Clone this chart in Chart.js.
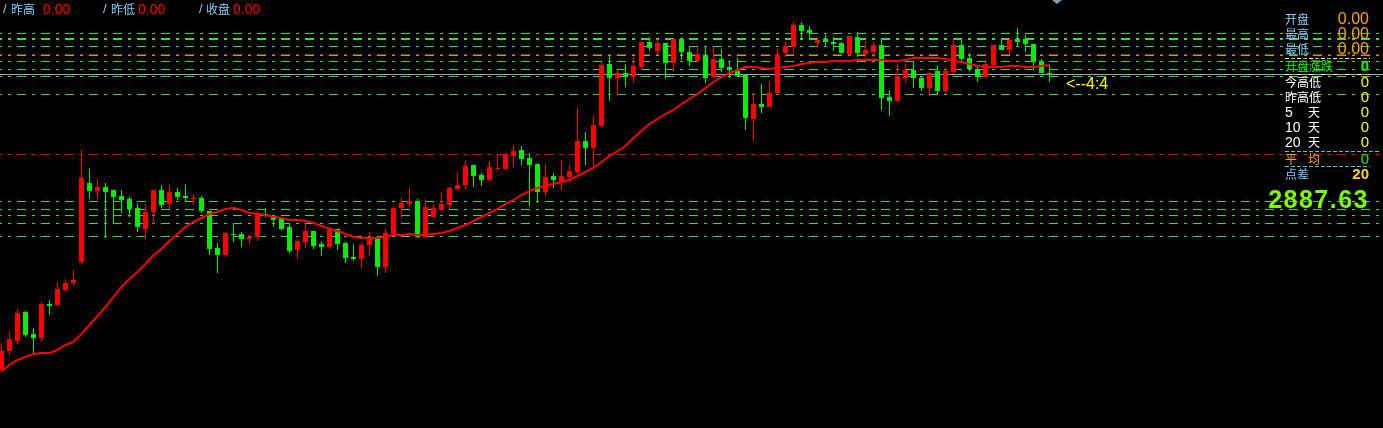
<!DOCTYPE html>
<html>
<head>
<meta charset="utf-8">
<script src="https://cdn.jsdelivr.net/npm/chart.js@4/dist/chart.umd.min.js"></script>
<style>
  html, body { margin: 0; padding: 0; background: #000; overflow: hidden; }
  #wrap { position: relative; width: 1383px; height: 428px; }
  canvas { position: absolute; left: 0; top: 0; }
  .t { position: absolute; white-space: pre; line-height: 16px; }
  .cjk { font-family: "Noto Sans CJK SC", sans-serif; font-size: 12px; }
  .num { font-family: "Liberation Sans", Arial, sans-serif; }
  .sep { position: absolute; height: 1px; }
</style>
</head>
<body>
<div id="wrap">
  <canvas id="chart" width="1383" height="428"></canvas>
</div>
<script>
// Candles, oldest first (price units)
const opens = [
  2858.0, 2859.9, 2860.9, 2863.8, 2861.6, 2861.2, 2864.6, 2864.5, 2866.0, 2866.7,
  2868.8, 2876.7, 2875.9, 2876.3, 2876.0, 2875.4, 2875.1, 2874.2, 2872.1, 2873.8,
  2876.0, 2874.6, 2875.8, 2875.4, 2875.1, 2875.2, 2873.9, 2870.2, 2869.5, 2871.6,
  2871.6, 2871.1, 2871.3, 2873.6, 2873.4, 2873.2, 2872.3, 2870.0, 2870.8, 2871.9,
  2870.6, 2870.3, 2872.1, 2870.7, 2869.3, 2869.1, 2870.5, 2871.2, 2868.3, 2871.6,
  2874.2, 2874.6, 2874.9, 2871.3, 2873.3, 2874.0, 2874.5, 2876.1, 2876.5, 2878.5,
  2877.5, 2877.0, 2878.1, 2878.1, 2879.4, 2880.0, 2879.2, 2878.6, 2875.8, 2877.4,
  2876.8, 2877.3, 2877.8, 2880.9, 2880.2, 2882.4, 2888.6, 2887.2, 2887.7, 2887.3,
  2888.3, 2890.8, 2889.9, 2890.7, 2888.7, 2891.1, 2889.8, 2888.9, 2889.5, 2887.3,
  2889.1, 2888.3, 2887.9, 2887.5, 2883.1, 2884.6, 2884.3, 2885.7, 2889.7, 2890.3,
  2892.5, 2892.0, 2890.7, 2891.1, 2890.8, 2890.7, 2889.6, 2891.3, 2889.6, 2889.8,
  2890.5, 2885.3, 2884.9, 2887.2, 2888.0, 2887.2, 2886.2, 2887.9, 2885.9, 2887.8,
  2890.5, 2889.2, 2888.1, 2887.3, 2888.5, 2890.5, 2890.0, 2891.1, 2891.1, 2890.6,
  2888.9, 2887.7
];
const highs = [
  2860.7, 2861.9, 2864.1, 2863.9, 2862.2, 2864.8, 2865.0, 2866.8, 2867.1, 2868.0,
  2880.0, 2878.2, 2877.1, 2876.7, 2876.0, 2876.0, 2875.3, 2874.6, 2874.6, 2876.0,
  2876.5, 2876.5, 2876.2, 2876.6, 2875.6, 2875.4, 2873.9, 2870.7, 2871.8, 2872.7,
  2871.8, 2871.5, 2873.8, 2874.2, 2873.5, 2873.2, 2872.6, 2871.1, 2872.6, 2871.9,
  2870.9, 2872.3, 2872.1, 2870.8, 2870.6, 2870.7, 2871.8, 2871.3, 2872.2, 2874.3,
  2875.2, 2876.3, 2875.1, 2875.1, 2874.7, 2875.8, 2876.3, 2877.7, 2879.0, 2878.5,
  2877.7, 2878.9, 2879.6, 2879.7, 2880.5, 2880.4, 2879.7, 2878.7, 2878.6, 2877.7,
  2878.9, 2878.5, 2884.3, 2881.8, 2883.5, 2888.8, 2889.5, 2888.0, 2888.6, 2889.3,
  2890.9, 2891.3, 2891.1, 2890.7, 2891.1, 2891.2, 2890.3, 2890.3, 2890.3, 2890.3,
  2890.1, 2888.8, 2889.2, 2887.5, 2885.7, 2886.6, 2886.9, 2890.2, 2890.8, 2892.8,
  2892.8, 2892.4, 2891.3, 2891.5, 2891.3, 2890.8, 2891.4, 2891.8, 2890.9, 2890.8,
  2891.2, 2886.0, 2888.6, 2888.6, 2888.8, 2887.3, 2887.8, 2888.4, 2888.2, 2891.1,
  2891.2, 2889.7, 2888.3, 2888.8, 2890.5, 2891.2, 2891.2, 2892.2, 2891.5, 2890.6,
  2889.1, 2888.5
];
const lows = [
  2857.8, 2859.5, 2860.6, 2861.3, 2859.7, 2860.8, 2863.5, 2864.4, 2865.9, 2866.4,
  2868.6, 2875.1, 2875.0, 2871.2, 2872.6, 2873.7, 2873.3, 2871.8, 2871.1, 2872.6,
  2874.2, 2874.1, 2875.0, 2874.8, 2874.5, 2873.7, 2869.5, 2867.7, 2869.3, 2870.8,
  2870.3, 2870.6, 2870.9, 2873.3, 2872.3, 2872.0, 2869.7, 2869.1, 2870.2, 2870.1,
  2869.4, 2870.2, 2870.0, 2868.7, 2868.9, 2868.2, 2869.5, 2867.4, 2867.7, 2871.5,
  2873.2, 2874.3, 2871.2, 2871.2, 2873.2, 2873.9, 2874.1, 2876.0, 2876.1, 2876.3,
  2876.4, 2876.9, 2877.9, 2878.0, 2878.3, 2878.5, 2874.4, 2874.7, 2875.4, 2876.2,
  2876.0, 2876.8, 2877.6, 2878.5, 2878.3, 2882.3, 2884.9, 2885.4, 2886.3, 2886.7,
  2888.0, 2889.9, 2889.5, 2887.2, 2887.8, 2889.0, 2888.4, 2888.8, 2886.7, 2887.2,
  2887.8, 2887.2, 2887.4, 2882.0, 2880.9, 2883.7, 2884.3, 2885.5, 2889.3, 2889.8,
  2891.1, 2891.1, 2890.2, 2890.3, 2889.9, 2889.7, 2889.3, 2889.3, 2889.3, 2889.3,
  2884.0, 2883.4, 2884.8, 2886.7, 2886.2, 2885.9, 2885.4, 2885.6, 2885.6, 2887.6,
  2888.8, 2887.9, 2886.8, 2887.2, 2888.4, 2890.0, 2889.5, 2890.3, 2889.8, 2888.0,
  2887.7, 2886.8
];
const closes = [
  2859.9, 2861.1, 2863.7, 2861.5, 2861.2, 2864.6, 2864.4, 2866.1, 2866.7, 2867.0,
  2877.2, 2875.9, 2876.3, 2875.8, 2875.3, 2875.0, 2874.1, 2872.3, 2873.8, 2876.0,
  2874.5, 2875.8, 2875.3, 2875.2, 2875.2, 2873.9, 2870.1, 2869.5, 2871.7, 2871.5,
  2871.1, 2871.3, 2873.7, 2873.4, 2873.0, 2872.1, 2869.9, 2870.9, 2871.9, 2870.4,
  2870.3, 2872.2, 2870.6, 2869.2, 2869.1, 2870.5, 2871.2, 2868.3, 2871.7, 2874.2,
  2874.7, 2874.9, 2871.3, 2874.3, 2874.2, 2874.6, 2876.2, 2876.5, 2878.4, 2877.4,
  2877.0, 2878.3, 2878.2, 2879.6, 2879.9, 2879.1, 2878.5, 2875.8, 2877.3, 2877.0,
  2877.4, 2877.9, 2880.9, 2880.2, 2882.5, 2888.5, 2887.2, 2887.7, 2887.3, 2888.4,
  2890.8, 2890.2, 2890.7, 2888.7, 2891.1, 2889.8, 2888.9, 2889.6, 2887.2, 2889.1,
  2888.2, 2888.0, 2887.4, 2883.2, 2884.6, 2884.3, 2885.7, 2889.5, 2890.4, 2892.5,
  2891.9, 2891.7, 2891.0, 2890.8, 2890.6, 2889.7, 2891.4, 2889.7, 2890.0, 2890.5,
  2885.2, 2884.9, 2887.4, 2888.0, 2887.2, 2886.2, 2887.7, 2885.9, 2887.9, 2890.5,
  2889.1, 2888.1, 2887.3, 2888.6, 2890.5, 2890.0, 2891.0, 2890.8, 2890.6, 2888.8,
  2887.7, 2887.5
];
// Moving average line
const maValues = [
  2857.9, 2858.5, 2859.0, 2859.3, 2859.6, 2859.7, 2859.7, 2860.0, 2860.5, 2860.8,
  2861.6, 2862.5, 2863.4, 2864.3, 2865.3, 2866.3, 2867.1, 2867.8, 2868.6, 2869.5,
  2870.1, 2870.9, 2871.6, 2872.3, 2872.8, 2873.2, 2873.6, 2873.8, 2874.1, 2874.2,
  2874.0, 2873.7, 2873.6, 2873.5, 2873.3, 2873.2, 2873.0, 2873.0, 2872.9, 2872.7,
  2872.4, 2872.1, 2871.9, 2871.6, 2871.3, 2871.2, 2871.2, 2871.2, 2871.3, 2871.5,
  2871.5, 2871.6, 2871.5, 2871.5, 2871.6, 2871.7, 2871.9, 2872.2, 2872.5, 2872.9,
  2873.3, 2873.7, 2874.1, 2874.6, 2875.0, 2875.5, 2875.9, 2876.2, 2876.4, 2876.6,
  2876.8, 2877.0, 2877.4, 2877.8, 2878.2, 2878.8, 2879.4, 2879.9, 2880.4, 2881.2,
  2881.9, 2882.6, 2883.1, 2883.6, 2884.0, 2884.6, 2885.1, 2885.6, 2886.2, 2886.8,
  2887.3, 2887.7, 2888.0, 2888.3, 2888.3, 2888.2, 2888.1, 2888.2, 2888.3, 2888.4,
  2888.6, 2888.7, 2888.8, 2888.8, 2888.9, 2888.9, 2888.9, 2889.0, 2889.0, 2889.0,
  2889.0, 2888.9, 2888.9, 2889.0, 2889.2, 2889.2, 2889.2, 2889.2, 2889.1, 2888.9,
  2888.8, 2888.6, 2888.4, 2888.3, 2888.3, 2888.3, 2888.4, 2888.4, 2888.3, 2888.3,
  2888.4, 2888.5
];
// Horizontal levels
const greenLevels = [2891.7, 2891.1, 2890.35, 2889.4, 2888.8, 2888.0, 2887.3, 2885.6,
                     2874.8, 2874.1, 2873.4, 2872.6, 2871.3];
const thickLevel = 2891.1;
const redLevels = [2889.5, 2879.55];
const bidPrice = 2887.5;

// Header and side panel texts
const headerLabels = ["昨高", "昨低", "收盘"];
const headerValues = ["0.00", "0.00", "0.00"];
const panelLabels = ["开盘", "最高", "最低", "开盘涨跌", "今高低", "昨高低", "5", "10", "20", "平", "点差"];
const panelValues = ["0.00", "0.00", "0.00", "0", "0", "0", "0", "0", "0", "0", "20"];
const lastPrice = "2887.63";
const ratioText = "<--4:4";

const UP = "#ff0000";
const DOWN = "#00f000";

const wrap = document.getElementById("wrap");

// Adds one absolutely placed text span
function addText(text, cls, left, centerY, color, extra) {
    const el = document.createElement("div");
    el.className = "t " + cls;
    el.textContent = text;
    el.style.left = left + "px";
    el.style.top = (centerY - 8) + "px";
    el.style.color = color;
    if (extra) Object.assign(el.style, extra);
    wrap.appendChild(el);
    return el;
}

function addRight(text, cls, right, centerY, color, extra) {
    const el = addText(text, cls, 0, centerY, color, extra);
    el.style.left = "auto";
    el.style.right = (1383 - right) + "px";
    return el;
}

function addSep(left, top, width, bg) {
    const el = document.createElement("div");
    el.className = "sep";
    el.style.left = left + "px";
    el.style.top = top + "px";
    el.style.width = width + "px";
    el.style.background = bg;
    wrap.appendChild(el);
}

// Header row
const headerX = [[3, 11, 43], [103, 111, 138], [199, 206, 233]];
headerX.forEach((p, i) => {
    addText("/", "num", p[0], 9, "#87cefa", { fontSize: "13px" });
    addText(headerLabels[i], "cjk", p[1], 9, "#87cefa", { fontSize: "12px" });
    addText(headerValues[i], "num", p[2], 9, "#ff0000", { fontSize: "14px" });
});

// Side panel
const rowY = [19, 34, 49, 66, 82, 97, 112, 127, 142, 159, 174];
const labelColors = ["#87cefa", "#87cefa", "#87cefa", "#00ff00", "#ffffff", "#ffffff",
                     "#ffffff", "#ffffff", "#ffffff", "#ffa500", "#87cefa"];
const valueColors = ["#ffa500", "#ffa500", "#ffa500", "#00ff00", "#ffff00", "#ffff00",
                     "#ffff00", "#ffff00", "#ffff00", "#00ff00", "#ffd700"];
panelLabels.forEach((lab, i) => {
    const isNum = /^\d+$/.test(lab);
    addText(lab, isNum ? "num" : "cjk", 1285, rowY[i], labelColors[i], isNum ? { fontSize: "14px" } : null);
    if (i >= 6 && i <= 8) addText("天", "cjk", 1308, rowY[i], labelColors[i]);
    if (i === 9) addText("均", "cjk", 1308, rowY[i], labelColors[i]);
    const big = i < 3 ? "16px" : "15px";
    const weight = (i === 3 || i === 10) ? "bold" : "normal";
    addRight(panelValues[i], "num", 1369, rowY[i], valueColors[i], { fontSize: big, fontWeight: weight });
});
addRight(lastPrice, "num", 1369, 199, "#7cfc00",
    { fontSize: "25px", fontWeight: "bold", letterSpacing: "1.5px", lineHeight: "24px", top: "187px" });
addText(ratioText, "num", 1066, 84, "#ffff00", { fontSize: "16px" });

addSep(1285, 58, 85, "repeating-linear-gradient(90deg,#fff 0 4px,transparent 4px 6px,#ffa500 6px 10px,transparent 10px 12px)");
addSep(1285, 74, 85, "repeating-linear-gradient(90deg,#fff 0 4px,transparent 4px 6px,#ffa500 6px 10px,transparent 10px 12px)");
addSep(1285, 151, 95, "repeating-linear-gradient(90deg,#40c8e8 0 4px,transparent 4px 6px)");
addSep(1285, 166, 85, "repeating-linear-gradient(90deg,#40c8e8 0 4px,transparent 4px 6px)");

// small marker at the top edge
const mark = document.createElement("div");
Object.assign(mark.style, {
    position: "absolute", left: "1052px", top: "0px", width: "10px", height: "4px",
    background: "#8098b8", clipPath: "polygon(0 0,100% 0,50% 100%)"
});
wrap.appendChild(mark);

// Level lines drawn under the candles
const levelLines = {
    id: "levelLines",
    beforeDatasetsDraw(chart) {
        const ctx = chart.ctx;
        const y = chart.scales.y;
        const w = chart.width;
        const line = (price, color, width, dash) => {
            const py = Math.floor(y.getPixelForValue(price)) + (width === 1 ? 0.5 : 0);
            ctx.save();
            ctx.strokeStyle = color;
            ctx.lineWidth = width;
            ctx.setLineDash(dash);
            ctx.lineDashOffset = 7;
            ctx.beginPath();
            ctx.moveTo(0, py);
            ctx.lineTo(w, py);
            ctx.stroke();
            ctx.restore();
        };
        greenLevels.forEach((p) => line(p, "#3ad83a", p === thickLevel ? 2 : 1, [9, 6, 3, 6]));
        redLevels.forEach((p) => line(p, "#ff0000", 1, [9, 6, 3, 6]));
        line(bidPrice, "#a0a0b4", 1, []);
    },
};

const candleColors = closes.map((c, i) => (c >= opens[i] ? UP : DOWN));

new Chart(document.getElementById("chart"), {
    type: "bar",
    data: {
        datasets: [
            {
                type: "line",
                data: maValues.map((v, i) => ({ x: i, y: v })),
                borderColor: "#ff0000",
                borderWidth: 2,
                pointRadius: 0,
                tension: 0,
                order: 0,
            },
            {
                data: opens.map((o, i) => ({ x: i, y: [Math.min(o, closes[i]), Math.max(o, closes[i])] })),
                backgroundColor: candleColors,
                barThickness: 5,
                minBarLength: 1,
                grouped: false,
                inflateAmount: 0,
                order: 1,
            },
            {
                data: lows.map((l, i) => ({ x: i, y: [l, highs[i]] })),
                backgroundColor: candleColors,
                barThickness: 1,
                grouped: false,
                inflateAmount: 0,
                order: 2,
            },
        ],
    },
    options: {
        responsive: false,
        devicePixelRatio: 1,
        animation: false,
        events: [],
        layout: { padding: 0 },
        plugins: { legend: { display: false }, tooltip: { enabled: false } },
        scales: {
            x: { type: "linear", display: false, min: -0.1875, max: 172.6875, offset: false },
            y: { display: false, min: 2852.2, max: 2895.0 },
        },
    },
    plugins: [levelLines],
});
</script>
</body>
</html>
